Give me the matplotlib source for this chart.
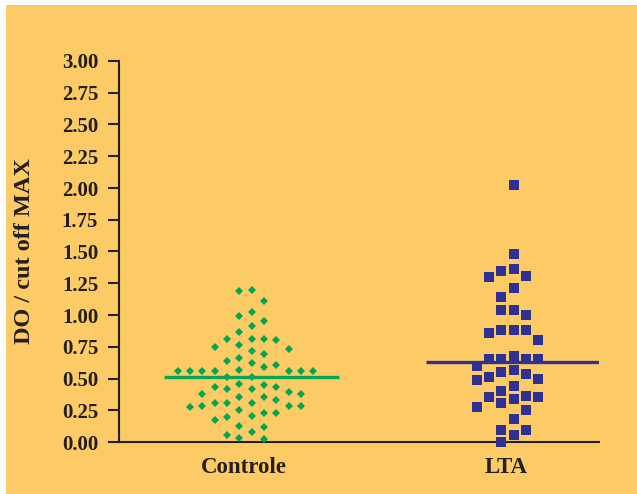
import numpy as np
import matplotlib.pyplot as plt
from matplotlib.patches import Rectangle

# data
categories = ['Controle', 'LTA']
controle = [1.20, 1.19, 1.11, 1.02, 0.995, 0.95, 0.91, 0.87,
            0.81, 0.80, 0.81, 0.81, 0.75, 0.735, 0.72, 0.76, 0.69, 0.66,
            0.64, 0.61, 0.62, 0.59,
            0.57, 0.56, 0.56, 0.56, 0.56, 0.56, 0.56, 0.56, 0.51, 0.51,
            0.415, 0.39, 0.38, 0.445, 0.43, 0.43, 0.46, 0.415, 0.38,
            0.355, 0.33, 0.355,
            0.31, 0.28, 0.275, 0.255, 0.225, 0.225, 0.20, 0.28, 0.285, 0.305, 0.31,
            0.205, 0.175, 0.115, 0.125, 0.055, 0.025, 0.035, 0.075]
lta = [2.02, 1.48, 1.36, 1.31, 1.30, 1.35, 1.21, 1.14,
       1.04, 1.04, 1.00, 0.88, 0.88, 0.86, 0.88, 0.80,
       0.68, 0.655, 0.655, 0.655, 0.655, 0.60, 0.57, 0.555, 0.535, 0.51, 0.485, 0.50,
       0.44, 0.40, 0.355, 0.305, 0.355, 0.36, 0.335,
       0.275, 0.25, 0.18, 0.095, 0.095, 0.055, 0.0]

BG = '#FDCB66'
GREEN = '#00A651'
BLUE = '#2E3192'
INK = '#231F20'


def swarm_offsets(values, min_gap, step):
    # greedy column layout: nearest free column to the centre
    values = np.asarray(values)
    cols = {}
    offs = np.zeros(len(values))
    for i in np.argsort(-values, kind='stable'):
        v = values[i]
        k = 0
        while True:
            cands = [0] if k == 0 else [-k, k]
            done = False
            for c in cands:
                if all(abs(v - u) >= min_gap for u in cols.get(c, [])):
                    cols.setdefault(c, []).append(v)
                    offs[i] = c * step
                    done = True
                    break
            if done:
                break
            k += 1
    return offs


plt.rcParams['font.family'] = ['Liberation Serif', 'DejaVu Serif']
plt.rcParams['font.weight'] = 'bold'
plt.rcParams['axes.labelweight'] = 'bold'

fig = plt.figure(figsize=(6.37, 4.94), dpi=100, facecolor='white')
fig.patches.append(Rectangle((6 / 637, 0), 1, 1 - 5 / 494, transform=fig.transFigure,
                             facecolor=BG, edgecolor='none', zorder=-10))
ax = fig.add_axes([119 / 637, 52 / 494, 480 / 637, 381 / 494])
ax.set_facecolor('none')

styles = [(controle, GREEN, 'D', 4.4), (lta, BLUE, 's', 6.6)]
for i, (vals, col, mk, ms) in enumerate(styles):
    x = i + swarm_offsets(vals, 0.09, 0.047)
    ax.plot(x, vals, linestyle='none', marker=mk, ms=ms, color=col,
            markeredgewidth=0, clip_on=False, zorder=3)
    med = np.median(vals)
    ax.plot([i - 0.334, i + 0.334], [med, med], color=col, lw=2.4,
            solid_capstyle='butt', zorder=4)

ax.set_xlim(-0.506, 1.326)
ax.set_ylim(0, 3)
ax.set_yticks(np.arange(0, 3.01, 0.25))
ax.set_yticklabels([f'{v:.2f}' for v in np.arange(0, 3.01, 0.25)], fontsize=15)
# category labels sit a little left of the point clouds
ax.set_xticks(np.arange(len(categories)) - 0.03)
ax.set_xticklabels(categories, fontsize=16.5)

for s in ['top', 'right']:
    ax.spines[s].set_visible(False)
for s in ['left', 'bottom']:
    ax.spines[s].set_color(INK)
    ax.spines[s].set_linewidth(1.5)
ax.tick_params(axis='y', direction='out', length=8, width=1.5, color=INK,
               pad=7, labelcolor=INK)
ax.tick_params(axis='x', length=0, pad=11, labelcolor=INK)

ax.set_ylabel('DO / cut off MAX', fontsize=17.5, color=INK, fontweight='bold')
ax.yaxis.set_label_coords(-0.175, 0.5)

fig.savefig('out.png', dpi=100, facecolor=fig.get_facecolor())
